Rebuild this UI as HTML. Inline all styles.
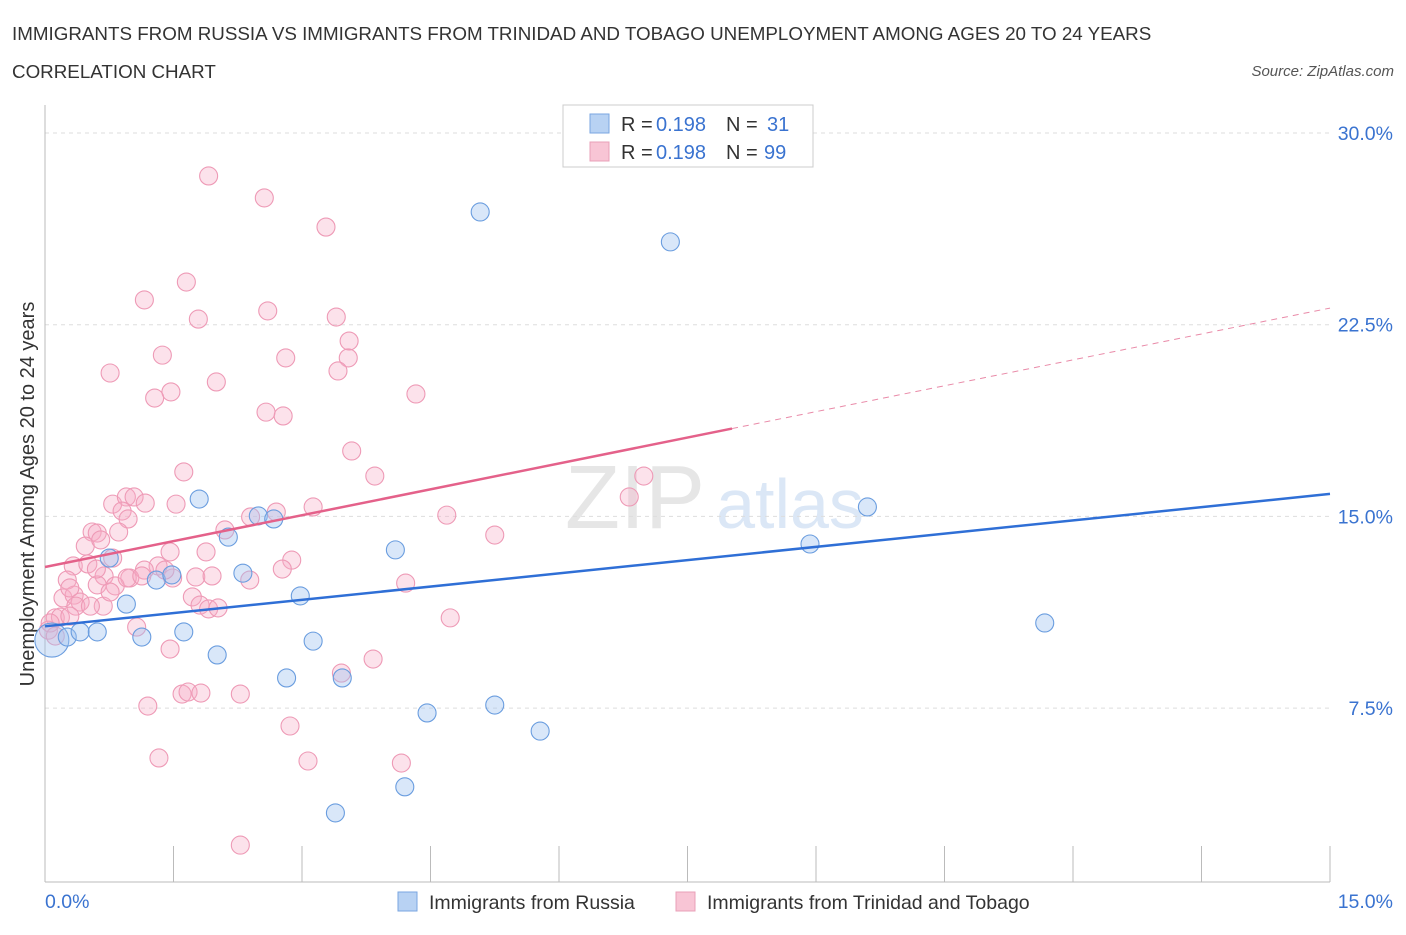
<!DOCTYPE html>
<html><head><meta charset="utf-8"><style>
body{margin:0;background:#fff;font-family:"Liberation Sans",sans-serif;}
svg text{font-family:"Liberation Sans",sans-serif;}
</style></head><body>
<svg id="c" width="1406" height="930">
<text x="12" y="40" font-size="18.8" fill="#333">IMMIGRANTS FROM RUSSIA VS IMMIGRANTS FROM TRINIDAD AND TOBAGO UNEMPLOYMENT AMONG AGES 20 TO 24 YEARS</text>
<text x="12" y="78" font-size="18.8" fill="#333">CORRELATION CHART</text>
<text x="1394" y="76" font-size="15" fill="#555" font-style="italic" text-anchor="end">Source: ZipAtlas.com</text>
<text x="635" y="528" font-size="90" fill="#e6e6e6" font-family="Liberation Serif" text-anchor="middle">ZIP</text>
<text x="790" y="528" font-size="70" fill="#dbe7f6" text-anchor="middle">atlas</text>
<text transform="translate(34,494) rotate(-90)" font-size="20" fill="#333" text-anchor="middle">Unemployment Among Ages 20 to 24 years</text>
<g id="grid"></g><g id="pts"></g><g id="lines"></g>
<g>
<rect x="563" y="105" width="250" height="62" fill="#fff" stroke="#ccc"/>
<rect x="590" y="114" width="19" height="19" fill="#b8d2f3" stroke="#7aa6e0"/>
<rect x="590" y="142" width="19" height="19" fill="#f8c5d5" stroke="#e9a0b8"/>
<text x="621" y="131" font-size="20" fill="#333">R =</text><text x="656" y="131" font-size="20" fill="#3a73d0">0.198</text>
<text x="726" y="131" font-size="20" fill="#333">N =</text><text x="767" y="131" font-size="20" fill="#3a73d0">31</text>
<text x="621" y="159" font-size="20" fill="#333">R =</text><text x="656" y="159" font-size="20" fill="#3a73d0">0.198</text>
<text x="726" y="159" font-size="20" fill="#333">N =</text><text x="764" y="159" font-size="20" fill="#3a73d0">99</text>
</g>
<g>
<rect x="398" y="892" width="19" height="19" fill="#b8d2f3" stroke="#7aa6e0"/>
<text x="429" y="909" font-size="19.5" fill="#333">Immigrants from Russia</text>
<rect x="676" y="892" width="19" height="19" fill="#f8c5d5" stroke="#e9a0b8"/>
<text x="707" y="909" font-size="19.5" fill="#333">Immigrants from Trinidad and Tobago</text>
</g>
<text x="45" y="908" font-size="19.5" fill="#3a73d0">0.0%</text>
<text x="1393" y="908" font-size="19.5" fill="#3a73d0" text-anchor="end">15.0%</text>
</svg>
<script>
const yTicks=[30,22.5,15,7.5];
const yTickLabels=["30.0%","22.5%","15.0%","7.5%"];
const blueX=[0.08,0.26,0.41,0.61,0.75,0.95,1.13,1.30,1.48,1.62,1.80,2.01,2.14,2.31,2.49,2.67,2.82,2.98,3.13,3.47,4.09,4.20,4.46,5.08,5.25,5.78,7.30,8.93,9.60,11.67,3.39];
const blueY=[10.16,10.28,10.48,10.48,13.37,11.57,10.28,12.51,12.71,10.48,15.68,9.58,14.19,12.78,15.02,14.90,8.68,11.89,10.12,8.68,13.69,4.42,7.31,26.91,7.62,6.60,25.74,13.92,15.37,10.83,3.40];
const pinkX=[1.91,2.56,3.28,1.65,1.16,1.79,2.60,3.40,3.55,1.37,2.81,3.54,0.76,3.42,2.00,1.47,1.28,4.33,2.58,2.78,3.58,1.62,3.85,6.99,6.82,0.79,0.95,1.04,1.17,0.90,1.53,3.13,2.40,2.70,4.69,0.97,2.10,0.55,0.61,0.47,0.86,5.25,0.65,0.79,1.46,1.88,2.88,0.33,0.50,1.32,1.16,0.26,0.69,0.99,0.61,0.82,0.96,1.49,1.76,1.95,2.39,2.77,4.21,0.21,0.34,0.41,0.68,0.36,1.72,1.81,1.91,2.02,0.12,0.18,0.29,0.04,0.06,4.73,1.07,1.46,3.46,3.83,1.20,1.60,1.67,1.82,2.28,2.86,1.33,3.07,4.16,2.28,0.29,1.13,1.40,0.76,0.53,0.12,0.60];
const pinkY=[28.32,27.46,26.32,24.17,23.47,22.72,23.04,22.80,21.86,21.31,21.20,21.20,20.61,20.69,20.26,19.87,19.63,19.79,19.08,18.93,17.56,16.74,16.58,16.58,15.76,15.48,15.76,15.76,15.52,15.21,15.48,15.37,14.98,15.17,15.05,14.90,14.47,14.39,14.35,13.84,14.39,14.27,14.08,13.37,13.61,13.61,13.29,13.06,13.14,13.06,12.90,12.51,12.67,12.59,12.32,12.28,12.59,12.59,12.63,12.67,12.51,12.94,12.39,11.81,11.92,11.65,11.49,11.49,11.85,11.53,11.38,11.42,11.03,11.06,11.10,10.55,10.83,11.03,10.67,9.81,8.87,9.42,7.58,8.05,8.13,8.09,8.05,6.80,5.55,5.43,5.35,2.14,12.20,12.67,12.90,12.04,11.49,10.32,12.94];
const blueTrend=[10.70,15.88];
const pinkTrend=[13.02,23.15];
const pinkSolidEnd=8.02;
const NS="http://www.w3.org/2000/svg";
const X=v=>45+v/15*1285;
const Y=v=>133+(30-v)/7.5*191.7;
function mk(tag,attrs,parent){const e=document.createElementNS(NS,tag);for(const k in attrs)e.setAttribute(k,attrs[k]);parent.appendChild(e);return e;}
const grid=document.getElementById('grid');
yTicks.forEach((t,i)=>{
  const l=mk('line',{x1:45,x2:1330,y1:Y(t),y2:Y(t),stroke:'#ddd','stroke-dasharray':'4,4'},grid);
  
  
  const tx=mk('text',{x:1393,y:Y(t)+7,'font-size':19.5,fill:'#3a73d0','text-anchor':'end'},grid);
  tx.textContent=yTickLabels[i];
  
  
});
const ax=mk('line',{x1:45,x2:45,y1:105,y2:882,stroke:'#bbb'},grid);


const bx=mk('line',{x1:45,x2:1330,y1:882,y2:882,stroke:'#bbb'},grid);


for(let i=0;i<=10;i++){const x=X(i*1.5);const t=mk('line',{x1:x,x2:x,y1:846,y2:882,stroke:'#bbb'},grid);
  
  }
const pts=document.getElementById('pts');
pinkX.forEach((x,i)=>{const c=mk('circle',{cx:X(x),cy:Y(pinkY[i]),r:9,fill:'rgba(246,172,197,0.35)',stroke:'#ee9ab6','stroke-width':1.1},pts);
  
  });
blueX.forEach((x,i)=>{const c=mk('circle',{cx:X(x),cy:Y(blueY[i]),r:i===0?17:9,fill:'rgba(160,196,240,0.4)',stroke:'#6a9ddf','stroke-width':1.1},pts);
  
  });
const lines=document.getElementById('lines');
const pv=x=>pinkTrend[0]+(pinkTrend[1]-pinkTrend[0])*x/15;
const bl=mk('line',{x1:X(0),y1:Y(blueTrend[0]),x2:X(15),y2:Y(blueTrend[1]),stroke:'#2f6fd6','stroke-width':2.5},lines);


const pl=mk('line',{x1:X(0),y1:Y(pv(0)),x2:X(pinkSolidEnd),y2:Y(pv(pinkSolidEnd)),stroke:'#e4618a','stroke-width':2.5},lines);


const pd=mk('line',{x1:X(pinkSolidEnd),y1:Y(pv(pinkSolidEnd)),x2:X(15),y2:Y(pv(15)),stroke:'#e98aa8','stroke-width':1,'stroke-dasharray':'6,5'},lines);


</script>
</body></html>
